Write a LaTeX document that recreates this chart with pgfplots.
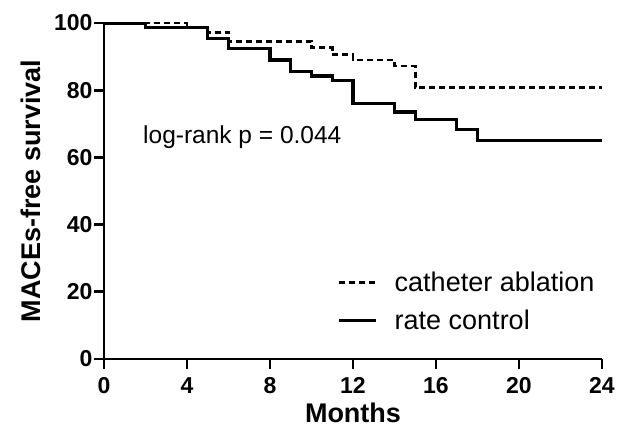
\documentclass[border=0pt]{standalone}
\usepackage{fontspec}
\setmainfont{Liberation Sans}
\usepackage{pgfplots}
\pgfplotsset{compat=1.18}
\begin{document}
\begin{tikzpicture}
\path[use as bounding box] (-104pt,-74pt) rectangle (520pt,359pt);
\begin{axis}[
  at={(0pt,0pt)}, anchor=south west,
  scale only axis, width=498pt, height=336pt,
  xmin=0, xmax=24, ymin=0, ymax=100,
  axis lines=left,
  axis line style={-, line width=2.8pt},
  xtick={0,4,...,24}, ytick={0,20,...,100},
  tick align=outside, major tick length=10pt,
  tick style={line width=2.8pt, black},
  ticklabel style={font=\fontsize{23}{23}\selectfont\bfseries},
  yticklabel style={xshift=2pt},
  xticklabel style={yshift=-5pt},
  /pgf/number format/assume math mode=true,
  xlabel={Months},
  ylabel={MACEs-free survival},
  label style={font=\fontsize{27}{27}\selectfont\bfseries},
  xlabel style={yshift=-2pt},
  ylabel style={yshift=6pt},
  legend cell align=left,
  legend style={draw=none, fill=none, at={(axis cs:11.1,27.2)}, anchor=north west,
    font=\fontsize{27}{27}\selectfont, row sep=13pt,
    /tikz/every odd column/.append style={column sep=15pt}},
  legend image code/.code={\draw[#1] (0pt,0pt) -- (37pt,0pt);},
]
% catheter ablation
\addplot[const plot, black, line width=2.8pt, dash pattern=on 6pt off 4pt] coordinates {
  (0,100) (4,98.7) (5,97.2) (6,94.6) (10,92.6) (11,90.6) (12,89)
  (14,87.2) (15,80.8) (24,80.8)
};
\addlegendentry{catheter ablation}
% rate control
\addplot[const plot, black, line width=3.2pt] coordinates {
  (0,100) (2,98.7) (5,95.5) (6,92.5) (8,89) (9,85.5) (10,84.2) (11,82.8)
  (12,76.1) (14,73.5) (15,71.3) (17,68.4) (18,65.1) (24,65.1)
};
\addlegendentry{rate control}
\node[anchor=west, inner sep=0pt, font=\fontsize{24.5}{24.5}\selectfont]
  at (axis cs:1.88,66.1) {log-rank p = 0.044};
\end{axis}
\end{tikzpicture}
\end{document}
